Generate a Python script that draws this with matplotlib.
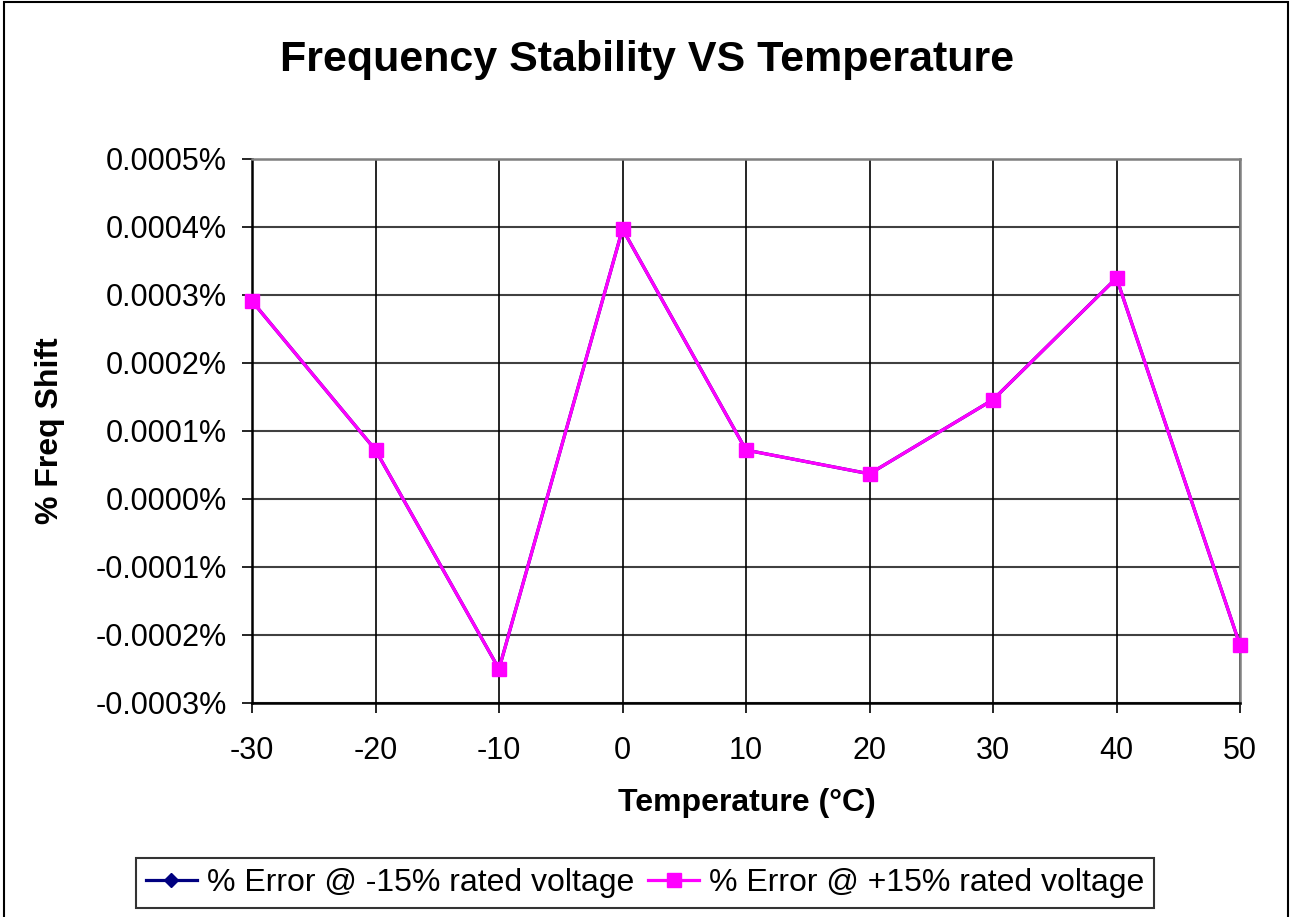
import matplotlib
matplotlib.use('agg')
import matplotlib.pyplot as plt
from matplotlib.patches import Rectangle
import numpy as np

plt.rcParams['font.family'] = ['Liberation Sans', 'DejaVu Sans']

# temperatures (deg C) and frequency error in percent
temps = [-30, -20, -10, 0, 10, 20, 30, 40, 50]
err_minus15 = [0.000291, 0.000072, -0.000250, 0.000397, 0.000072, 0.000037, 0.000146, 0.000325, -0.000215]
err_plus15 = [0.000291, 0.000072, -0.000250, 0.000397, 0.000072, 0.000037, 0.000146, 0.000325, -0.000215]
y_ticks = [-0.0003, -0.0002, -0.0001, 0.0, 0.0001, 0.0002, 0.0003, 0.0004, 0.0005]
x_ticks = [-30, -20, -10, 0, 10, 20, 30, 40, 50]

W, H = 1293, 917
fig = plt.figure(figsize=(W / 100, H / 100), dpi=100)
ax = fig.add_axes([252 / W, 1 - 703 / H, 988 / W, 544 / H])

# chart border
fig.patches.append(Rectangle((4 / W, -0.02), 1284 / W, 1.02 - 2 / H, transform=fig.transFigure,
                             fill=False, edgecolor='black', linewidth=1.5))

ax.plot(temps, err_minus15, color='#000080', linewidth=2.3, marker='D', markersize=7,
        label='% Error @ -15% rated voltage', zorder=3, clip_on=False)
ax.plot(temps, err_plus15, color='#FF00FF', linewidth=2.3, marker='s', markersize=10,
        label='% Error @ +15% rated voltage', zorder=4, clip_on=False)

ax.set_xlim(-30, 50)
ax.set_ylim(-0.0003, 0.0005)
ax.set_xticks(x_ticks)
ax.set_yticks(y_ticks)
ax.set_xticklabels([str(t) for t in x_ticks])
ax.set_yticklabels(['%.4f%%' % v for v in y_ticks])
ax.tick_params(axis='both', direction='out', length=7, width=1.2, labelsize=22, color='black')
ax.tick_params(axis='y', pad=11)
ax.tick_params(axis='x', pad=17)

for v in y_ticks:
    ax.axhline(v, color='#404040', linewidth=1.5, zorder=1)
for t in x_ticks:
    ax.axvline(t, color='black', linewidth=1.2, zorder=1)

ax.spines['left'].set_color('black')
ax.spines['bottom'].set_color('black')
ax.spines['top'].set_color('#808080')
ax.spines['right'].set_color('#808080')
for s in ax.spines.values():
    s.set_linewidth(1.8)
    s.set_zorder(2)

fig.text(647 / W, 1 - 60 / H, 'Frequency Stability VS Temperature', ha='center', va='center',
         fontsize=31, fontweight='bold')
fig.text(747 / W, 1 - 803 / H, 'Temperature (°C)', ha='center', va='center',
         fontsize=23, fontweight='bold')
fig.text(50 / W, 1 - 431 / H, '% Freq Shift', ha='center', va='center', rotation=90,
         fontsize=23, fontweight='bold')

leg = fig.legend(loc='center', bbox_to_anchor=(645 / W, 1 - 883 / H), ncol=2, fontsize=23,
                 frameon=True, fancybox=False, handlelength=1.6, handletextpad=0.3,
                 columnspacing=0.45, borderpad=0.3, borderaxespad=0)
leg.get_frame().set_edgecolor('black')
leg.get_frame().set_linewidth(1.5)

fig.savefig('out.png', dpi=100)
